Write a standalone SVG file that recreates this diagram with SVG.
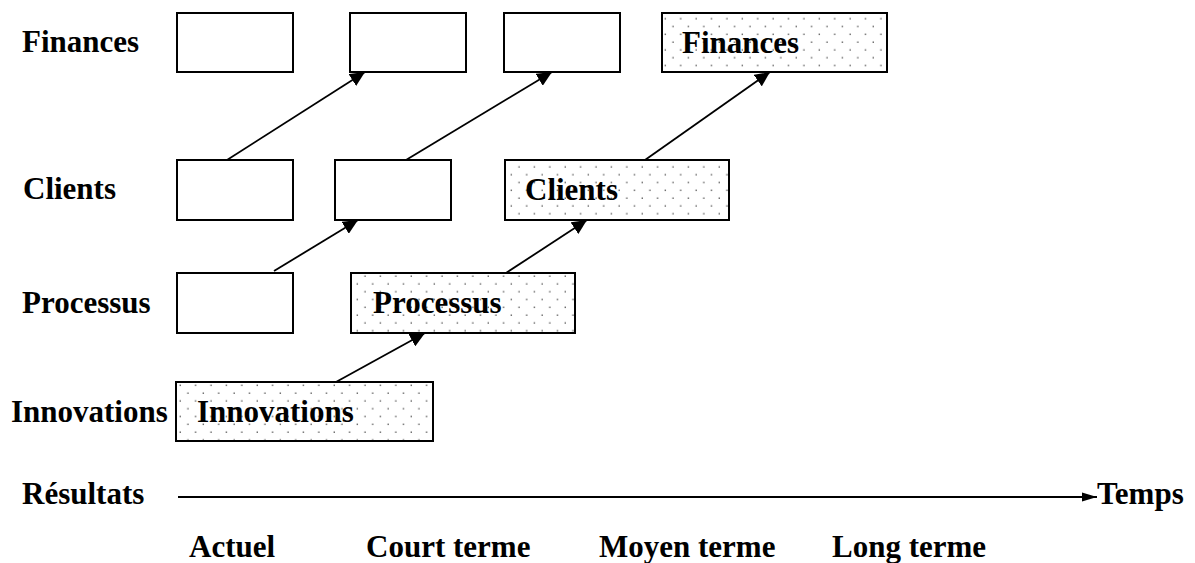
<svg xmlns="http://www.w3.org/2000/svg" width="1195" height="563" viewBox="0 0 1195 563">
  <style>
    .lbl { font-family: "Liberation Serif", "Times New Roman", serif; font-weight: bold; font-size: 31px; fill: #000; }
    .box { fill: #fff; stroke: #000; stroke-width: 2; }
    .dot { fill: url(#dots); stroke: #000; stroke-width: 2; }
    .link { fill: none; stroke: #000; stroke-width: 1.8; marker-end: url(#head); }
    .axis { fill: none; stroke: #000; stroke-width: 1.8; marker-end: url(#axhead); }
  </style>
  <defs>
    <pattern id="dots" patternUnits="userSpaceOnUse" width="15.4" height="15.6">
      <rect width="15.4" height="15.6" fill="#fff"/>
      <rect x="2.5" y="2.5" width="1.3" height="1.3" fill="#444"/>
      <rect x="10.2" y="10.3" width="1.3" height="1.3" fill="#444"/>
    </pattern>
    <marker id="head" markerUnits="userSpaceOnUse" markerWidth="16" markerHeight="14" refX="15" refY="7" orient="auto">
      <path d="M0,0 L15,7 L0,14 Z" fill="#000"/>
    </marker>
    <marker id="axhead" markerUnits="userSpaceOnUse" markerWidth="16" markerHeight="10" refX="15" refY="5" orient="auto">
      <path d="M0,0.5 L15,5 L0,9.5 Z" fill="#000"/>
    </marker>
  </defs>

  <!-- row labels -->
  <g id="row-labels">
    <text class="lbl" x="22" y="52">Finances</text>
    <text class="lbl" x="23" y="199">Clients</text>
    <text class="lbl" x="22" y="313">Processus</text>
    <text class="lbl" x="11" y="422">Innovations</text>
    <text class="lbl" x="22" y="504">Résultats</text>
  </g>

  <!-- Finances row -->
  <g id="fin-1"><rect class="box" x="177" y="13" width="116" height="59"/></g>
  <g id="fin-2"><rect class="box" x="350" y="13" width="116" height="59"/></g>
  <g id="fin-3"><rect class="box" x="504" y="13" width="116" height="59"/></g>
  <g id="fin-4">
    <rect class="dot" x="662" y="13" width="225" height="59"/>
    <text class="lbl" x="682" y="53">Finances</text>
  </g>

  <!-- Clients row -->
  <g id="cli-1"><rect class="box" x="177" y="160" width="116" height="60"/></g>
  <g id="cli-2"><rect class="box" x="335" y="160" width="116" height="60"/></g>
  <g id="cli-3">
    <rect class="dot" x="505" y="160" width="224" height="60"/>
    <text class="lbl" x="525" y="200">Clients</text>
  </g>

  <!-- Processus row -->
  <g id="pro-1"><rect class="box" x="177" y="273" width="116" height="60"/></g>
  <g id="pro-2">
    <rect class="dot" x="351" y="273" width="224" height="60"/>
    <text class="lbl" x="373" y="313">Processus</text>
  </g>

  <!-- Innovations row -->
  <g id="inn-1">
    <rect class="dot" x="176" y="382" width="257" height="59"/>
    <text class="lbl" x="197" y="422">Innovations</text>
  </g>

  <!-- connectors -->
  <g id="connectors">
    <line class="link" x1="227" y1="160" x2="365" y2="72"/>
    <line class="link" x1="406" y1="160" x2="552" y2="72"/>
    <line class="link" x1="645" y1="160" x2="770" y2="72"/>
    <line class="link" x1="274" y1="271" x2="358" y2="220"/>
    <line class="link" x1="506" y1="273" x2="587" y2="220"/>
    <line class="link" x1="336" y1="382" x2="425" y2="333"/>
    <line class="axis" x1="178" y1="497" x2="1097" y2="497"/>
  </g>

  <!-- time axis labels -->
  <g id="axis-labels">
    <text class="lbl" x="1097" y="504">Temps</text>
    <text class="lbl" x="189" y="557">Actuel</text>
    <text class="lbl" x="366" y="557">Court terme</text>
    <text class="lbl" x="599" y="557">Moyen terme</text>
    <text class="lbl" x="832" y="557">Long terme</text>
  </g>
</svg>
